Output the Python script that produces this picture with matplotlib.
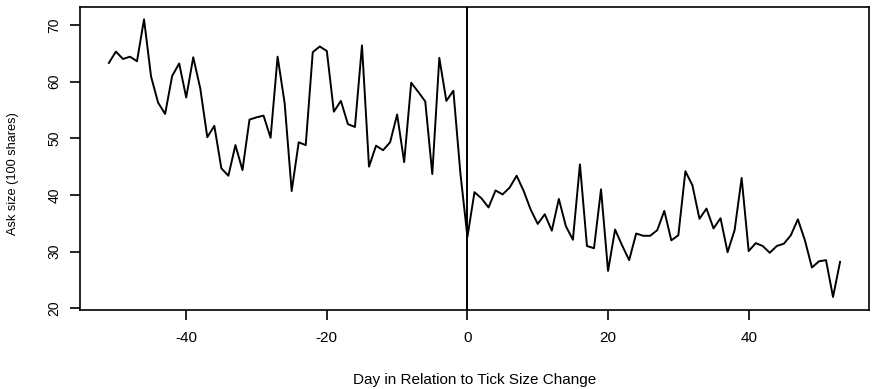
import matplotlib
matplotlib.use('Agg')
import matplotlib.pyplot as plt

# days relative to the tick size change
days = list(range(-51, 54))

# ask size (100 shares)
ask_before = [63.3, 65.3, 64.0, 64.4, 63.6, 71.0, 60.9, 56.3, 54.3, 61.0,
              63.2, 57.2, 64.3, 58.8, 50.2, 52.2, 44.7, 43.4, 48.8, 44.4,
              53.3, 53.7, 54.0, 50.1, 64.4, 56.2, 40.7, 49.3, 48.8, 65.2,
              66.2, 65.4, 54.7, 56.6, 52.5, 52.0, 66.4, 45.0, 48.7, 47.9,
              49.3, 54.2, 45.8, 59.8, 58.2, 56.5, 43.7, 64.2, 56.6, 58.4,
              43.8]
ask_after = [32.6, 40.5, 39.4, 37.8, 40.8, 40.1, 41.3, 43.4, 40.7, 37.4,
             34.9, 36.6, 33.7, 39.3, 34.5, 32.1, 45.4, 31.0, 30.6, 41.0,
             26.6, 33.9, 31.1, 28.5, 33.2, 32.8, 32.8, 33.8, 37.2, 32.0,
             32.9, 44.2, 41.7, 35.8, 37.6, 34.1, 35.9, 29.9, 33.8, 43.0,
             30.1, 31.5, 31.0, 29.8, 31.0, 31.4, 32.9, 35.7, 32.0, 27.2,
             28.3, 28.5, 22.0, 28.2]
ask = ask_before + ask_after

xticks = [-40, -20, 0, 20, 40]
yticks = [20, 30, 40, 50, 60, 70]


def main():
    plt.rcParams['font.family'] = ['Liberation Sans', 'DejaVu Sans']
    plt.rcParams['axes.unicode_minus'] = False  # trait d'union simple

    fig = plt.figure(figsize=(8.75, 3.89), dpi=100)
    ax = fig.add_axes([0.091, 0.203, 0.9025, 0.778])

    ax.plot(days, ask, color='black', linewidth=1.4)
    ax.axvline(0, color='black', linewidth=1.4)

    ax.set_xlim(-55.16, 57.16)
    ax.set_ylim(19.7, 73.1)
    ax.set_xticks(xticks)
    ax.set_xticklabels([str(t) for t in xticks])
    ax.set_yticks(yticks)
    ax.set_yticklabels([str(t) for t in yticks], rotation=90, va='center')

    ax.tick_params(direction='out', length=7, width=1.2)
    ax.tick_params(axis='x', labelsize=11, pad=8)
    ax.tick_params(axis='y', labelsize=10, pad=6)
    for s in ax.spines.values():
        s.set_linewidth(1.2)

    ax.set_xlabel('Day in Relation to Tick Size Change', fontsize=11,
                  labelpad=20)
    ax.set_ylabel('Ask size (100 shares)', fontsize=9.2)
    ax.yaxis.set_label_coords(-0.077, 0.45)

    fig.savefig('out.png', dpi=100)


if __name__ == '__main__':
    main()
